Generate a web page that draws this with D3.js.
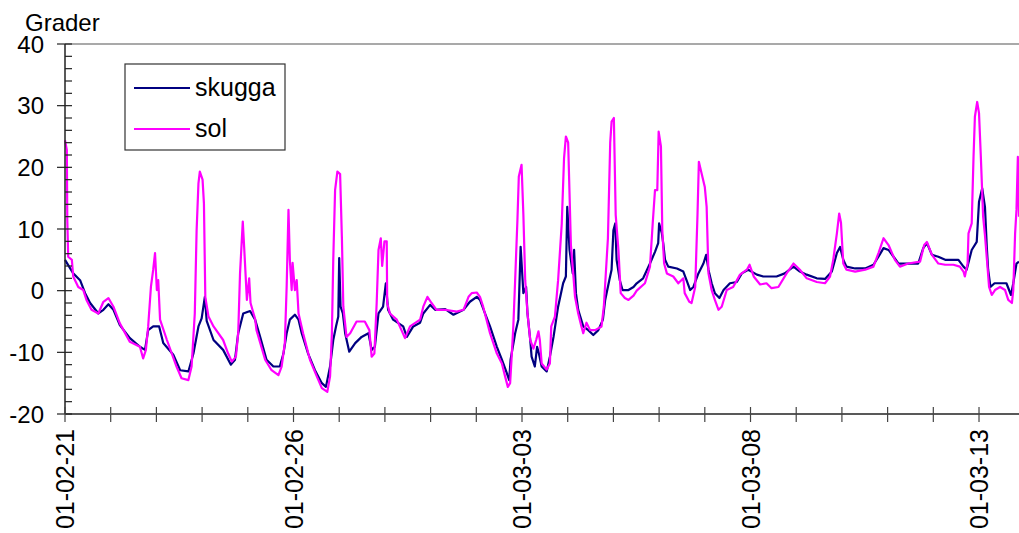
<!DOCTYPE html>
<html><head><meta charset="utf-8">
<script src="https://cdn.jsdelivr.net/npm/d3@7"></script>
<style>body{margin:0;background:#fff}svg{display:block;font-family:"Liberation Sans",Arial,sans-serif}</style>
</head><body><svg id="c" width="1019" height="533"></svg>
<script>
// ---- data ----
const startDate = Date.UTC(2001, 1, 21);
const spanDays = 20.875;
const seriesNames = ["skugga", "sol"];
const seriesColors = ["#000080", "#ff00ff"];
const yTicks = [-20, -10, 0, 10, 20, 30, 40];
const yLabel = "Grader";
// [days since 2001-02-21, degrees]
const skugga = [
[0,5.0],[0.04,4.5],[0.18,2.8],[0.33,1.7],[0.44,-0.4],[0.55,-2.0],[0.73,-3.7],[0.84,-3.1],[0.95,-2.2],[1.06,-3.1],
[1.20,-5.6],[1.42,-7.7],[1.64,-9.1],[1.75,-9.6],[1.82,-6.4],[1.93,-5.8],[2.06,-5.8],[2.15,-8.5],[2.37,-10.4],[2.52,-12.9],
[2.70,-13.1],[2.81,-10.2],[2.92,-5.8],[2.99,-4.5],[3.06,-1.0],[3.10,-4.9],[3.25,-8.0],[3.46,-9.6],[3.63,-12.0],[3.72,-11.2],
[3.79,-6.9],[3.90,-3.7],[4.05,-3.3],[4.16,-4.7],[4.27,-7.5],[4.41,-11.2],[4.56,-12.3],[4.70,-12.3],[4.78,-10.2],[4.85,-6.9],
[4.92,-4.7],[5.03,-3.9],[5.11,-4.7],[5.18,-6.9],[5.32,-10.2],[5.47,-12.9],[5.62,-15.0],[5.71,-15.6],[5.80,-12.3],[5.87,-8.0],
[5.93,-5.8],[5.98,-4.2],[6.00,5.3],[6.03,-2.6],[6.08,-3.7],[6.13,-6.9],[6.22,-9.9],[6.35,-8.5],[6.49,-7.5],[6.64,-6.9],
[6.71,-9.6],[6.78,-9.1],[6.86,-3.7],[6.96,-2.6],[7.02,1.2],[7.07,-3.1],[7.18,-4.7],[7.40,-5.8],[7.48,-7.5],[7.62,-5.8],
[7.77,-5.2],[7.84,-3.7],[7.99,-2.3],[8.10,-3.1],[8.32,-3.0],[8.50,-3.9],[8.72,-3.1],[8.86,-1.8],[9.01,-1.0],[9.08,-1.5],
[9.19,-3.7],[9.30,-5.8],[9.45,-9.1],[9.56,-11.2],[9.67,-13.4],[9.72,-14.5],[9.75,-11.2],[9.85,-6.9],[9.92,-4.7],[9.97,7.1],
[10.03,-0.4],[10.09,0.6],[10.12,-3.7],[10.18,-8.0],[10.21,-10.7],[10.28,-12.3],[10.33,-9.1],[10.37,-10.2],[10.43,-12.3],[10.54,-13.1],
[10.61,-10.7],[10.69,-7.5],[10.79,-2.6],[10.90,1.2],[10.96,2.3],[10.99,13.6],[11.04,6.6],[11.11,2.8],[11.14,6.6],[11.18,-0.4],
[11.23,-3.1],[11.34,-5.8],[11.45,-6.4],[11.56,-7.2],[11.67,-6.4],[11.77,-4.7],[11.82,-1.5],[11.91,1.7],[11.96,3.4],[12.00,9.8],
[12.04,10.9],[12.07,5.0],[12.14,1.7],[12.20,0.1],[12.33,0.1],[12.44,0.6],[12.51,1.2],[12.65,2.0],[12.80,4.4],[12.91,6.3],
[12.98,7.7],[13.00,10.9],[13.06,9.3],[13.09,7.7],[13.13,5.0],[13.20,3.9],[13.39,3.6],[13.53,3.1],[13.60,1.7],[13.68,0.1],
[13.75,0.6],[13.86,2.8],[13.97,4.4],[14.03,5.8],[14.08,3.4],[14.15,1.2],[14.22,-0.4],[14.32,-1.2],[14.41,0.1],[14.55,1.2],
[14.70,1.4],[14.81,2.8],[14.95,3.4],[15.14,2.6],[15.28,2.3],[15.57,2.3],[15.75,2.8],[15.94,3.9],[16.08,3.1],[16.23,2.6],
[16.45,2.0],[16.63,1.9],[16.78,3.1],[16.89,6.1],[16.96,7.1],[17.03,5.0],[17.10,3.9],[17.29,3.6],[17.51,3.6],[17.69,4.2],
[17.80,5.5],[17.91,6.9],[18.02,6.6],[18.13,5.5],[18.24,4.4],[18.67,4.4],[18.78,6.9],[18.86,7.7],[18.97,5.8],[19.11,5.5],
[19.26,5.0],[19.55,5.0],[19.66,3.9],[19.73,3.4],[19.84,6.6],[19.95,7.9],[20.00,14.4],[20.07,16.6],[20.13,13.6],[20.17,7.1],
[20.20,3.4],[20.25,0.6],[20.34,1.2],[20.60,1.2],[20.70,-0.7],[20.75,1.2],[20.82,4.4],[20.875,4.7]
];
const sol = [
[0,24.4],[0.04,22.8],[0.05,11.5],[0.07,5.5],[0.15,5.0],[0.18,2.3],[0.29,0.6],[0.40,0.1],[0.47,-1.5],[0.58,-3.1],
[0.73,-3.7],[0.84,-1.8],[0.95,-1.2],[1.06,-2.6],[1.20,-5.3],[1.42,-8.3],[1.64,-9.1],[1.71,-11.0],[1.77,-9.6],[1.82,-5.8],
[1.88,0.6],[1.93,3.4],[1.97,6.1],[2.01,0.1],[2.04,1.7],[2.08,-4.7],[2.23,-8.0],[2.44,-12.3],[2.55,-14.2],[2.70,-14.5],
[2.77,-12.3],[2.84,-3.7],[2.88,9.8],[2.92,17.4],[2.95,19.3],[3.01,18.0],[3.04,14.2],[3.07,-1.0],[3.14,-4.2],[3.25,-5.8],
[3.46,-8.0],[3.57,-10.2],[3.65,-11.5],[3.74,-10.7],[3.79,-6.9],[3.83,2.8],[3.89,11.2],[3.92,7.1],[3.98,-1.5],[4.03,2.0],
[4.06,-2.0],[4.16,-4.6],[4.19,-6.4],[4.38,-11.2],[4.52,-12.9],[4.67,-13.7],[4.74,-12.3],[4.81,-8.5],[4.85,0.6],[4.89,13.1],
[4.92,5.0],[4.96,0.1],[4.98,4.5],[5.03,0.1],[5.07,1.7],[5.11,-3.7],[5.21,-6.9],[5.36,-11.2],[5.51,-13.9],[5.62,-15.8],
[5.74,-16.4],[5.80,-13.9],[5.84,-6.9],[5.87,5.0],[5.91,16.3],[5.96,19.3],[6.02,18.9],[6.06,8.2],[6.09,-2.6],[6.16,-7.5],
[6.24,-6.9],[6.38,-5.0],[6.56,-5.0],[6.66,-6.4],[6.71,-10.7],[6.77,-10.2],[6.82,-2.0],[6.86,6.6],[6.91,8.5],[6.94,4.0],
[6.99,8.0],[7.04,8.0],[7.05,-2.0],[7.11,-3.7],[7.26,-4.7],[7.44,-7.7],[7.55,-5.8],[7.77,-4.7],[7.84,-2.6],[7.93,-1.0],
[8.02,-2.0],[8.13,-3.1],[8.32,-3.1],[8.57,-3.4],[8.72,-3.1],[8.83,-1.0],[8.90,-0.4],[9.01,-0.3],[9.08,-1.0],[9.15,-2.6],
[9.30,-6.9],[9.45,-10.2],[9.56,-11.8],[9.63,-13.9],[9.69,-15.6],[9.74,-15.0],[9.77,-11.2],[9.81,-5.8],[9.85,1.7],[9.90,11.5],
[9.93,18.5],[9.99,20.4],[10.03,12.3],[10.07,1.7],[10.12,-3.7],[10.18,-8.0],[10.25,-9.4],[10.31,-8.0],[10.36,-6.6],[10.39,-8.0],
[10.43,-11.8],[10.54,-12.8],[10.61,-11.8],[10.64,-5.8],[10.72,-4.2],[10.79,1.7],[10.87,10.9],[10.92,21.5],[10.96,25.0],[11.01,24.0],
[11.07,7.4],[11.12,2.8],[11.16,-1.0],[11.23,-3.7],[11.30,-5.8],[11.34,-6.9],[11.41,-5.2],[11.49,-6.4],[11.60,-6.4],[11.74,-5.8],
[11.79,-2.6],[11.83,2.3],[11.88,8.5],[11.93,24.0],[11.96,27.4],[12.01,28.0],[12.05,12.3],[12.11,6.6],[12.16,-0.4],[12.25,-1.2],
[12.33,-1.5],[12.44,-0.8],[12.51,0.0],[12.69,1.2],[12.80,3.9],[12.86,10.9],[12.91,16.3],[12.96,16.3],[12.99,25.8],[13.04,23.4],
[13.07,9.8],[13.11,4.4],[13.17,2.8],[13.31,2.3],[13.42,1.2],[13.53,2.0],[13.56,-0.4],[13.66,-1.8],[13.71,-2.0],[13.79,0.6],
[13.84,12.3],[13.87,20.9],[13.93,19.0],[14.00,16.8],[14.04,13.6],[14.08,2.8],[14.15,0.1],[14.22,-1.5],[14.30,-3.1],[14.37,-2.6],
[14.48,0.1],[14.62,0.6],[14.77,2.6],[14.92,3.4],[14.98,4.2],[15.07,2.3],[15.21,1.0],[15.35,1.2],[15.46,0.4],[15.61,0.6],
[15.79,2.8],[15.94,4.4],[16.08,3.4],[16.23,2.0],[16.45,1.4],[16.63,1.2],[16.74,2.3],[16.81,5.0],[16.89,9.3],[16.94,12.5],
[16.98,11.0],[17.03,4.4],[17.10,3.4],[17.29,3.1],[17.51,3.4],[17.69,3.9],[17.80,6.1],[17.91,8.5],[18.02,7.4],[18.16,5.0],
[18.27,3.9],[18.45,4.4],[18.71,4.7],[18.80,7.4],[18.86,7.9],[18.97,5.8],[19.11,4.4],[19.26,4.2],[19.44,4.2],[19.58,3.9],
[19.66,3.1],[19.69,2.3],[19.75,4.4],[19.77,9.3],[19.84,10.9],[19.88,21.7],[19.91,28.2],[19.96,30.6],[20.00,28.8],[20.04,21.7],
[20.09,12.0],[20.13,9.0],[20.18,4.4],[20.22,0.6],[20.28,-0.7],[20.35,0.1],[20.46,0.6],[20.57,0.1],[20.64,-1.5],[20.72,-2.0],
[20.75,0.1],[20.79,9.3],[20.82,13.1],[20.85,21.7],[20.875,12.0]
];

// ---- chart ----
const svg = d3.select("#c");
const DAY = 864e5;
const toDate = d => new Date(startDate + d * DAY);
const margin = {left: 65, right: 0, top: 44, bottom: 119};
const W = 1019, H = 533;
const x = d3.scaleUtc().domain([toDate(0), toDate(spanDays)]).range([margin.left, W - margin.right]);
const y = d3.scaleLinear().domain([-20, 40]).range([H - margin.bottom, margin.top]);

// top border line at 40
svg.append("line").attr("x1", x.range()[0]).attr("x2", x.range()[1])
  .attr("y1", y(40)).attr("y2", y(40)).attr("stroke", "#8c8c8c").attr("stroke-width", 1.5);

// series
const line = d3.line().x(d => x(toDate(d[0]))).y(d => y(d[1]));
[skugga, sol].forEach((s, i) => {
  svg.append("path").datum(s).attr("d", line).attr("fill", "none")
    .attr("stroke", seriesColors[i]).attr("stroke-width", 2.2).attr("stroke-linejoin", "round");
});

// y axis
const yAxisG = svg.append("g");
yAxisG.append("line").attr("x1", margin.left).attr("x2", margin.left)
  .attr("y1", y(40)).attr("y2", y(-20)).attr("stroke", "#222").attr("stroke-width", 1.5);
const minor = d3.range(-20, 40.001, 2).filter(v => !yTicks.includes(v));
yAxisG.selectAll(".mn").data(minor).join("line")
  .attr("x1", margin.left).attr("x2", margin.left + 7)
  .attr("y1", d => y(d)).attr("y2", d => y(d)).attr("stroke", "#222").attr("stroke-width", 1.2);
yAxisG.selectAll(".mj").data(yTicks).join("line")
  .attr("x1", margin.left - 8).attr("x2", margin.left + 7)
  .attr("y1", d => y(d)).attr("y2", d => y(d)).attr("stroke", "#222").attr("stroke-width", 1.2);
yAxisG.selectAll("text").data(yTicks).join("text")
  .attr("x", 44).attr("y", d => y(d)).attr("dy", "0.36em").attr("text-anchor", "end")
  .attr("font-size", 24).attr("fill", "#000").text(d => d);
svg.append("text").attr("x", 25).attr("y", 31).attr("font-size", 24).attr("fill", "#000").text(yLabel);

// x axis
const xAxisG = svg.append("g");
xAxisG.append("line").attr("x1", x.range()[0]).attr("x2", x.range()[1])
  .attr("y1", y(-20)).attr("y2", y(-20)).attr("stroke", "#222").attr("stroke-width", 1.5);
const days = d3.utcDay.range(toDate(0), toDate(spanDays));
xAxisG.selectAll(".tk").data(days).join("line")
  .attr("x1", d => x(d)).attr("x2", d => x(d))
  .attr("y1", y(-20) - 7).attr("y2", y(-20) + 8).attr("stroke", "#444").attr("stroke-width", 1.2);
const fmt = d3.utcFormat("%y-%m-%d");
xAxisG.selectAll("text").data(days.filter((d, i) => i % 5 === 0)).join("text")
  .attr("transform", d => `translate(${x(d)},${y(-20) + 15}) rotate(-90)`)
  .attr("dy", "0.36em").attr("text-anchor", "end").attr("font-size", 25).attr("fill", "#000")
  .text(d => fmt(d));

// legend
const lg = svg.append("g");
lg.append("rect").attr("x", 125).attr("y", 64).attr("width", 160).attr("height", 86)
  .attr("fill", "#fff").attr("stroke", "#333").attr("stroke-width", 1.2);
seriesNames.forEach((n, i) => {
  const ly = 88 + i * 41;
  lg.append("line").attr("x1", 134).attr("x2", 190).attr("y1", ly).attr("y2", ly)
    .attr("stroke", seriesColors[i]).attr("stroke-width", 2);
  lg.append("text").attr("x", 195).attr("y", ly).attr("dy", "0.32em").attr("font-size", 25)
    .attr("fill", "#000").text(n);
});
</script></body></html>
